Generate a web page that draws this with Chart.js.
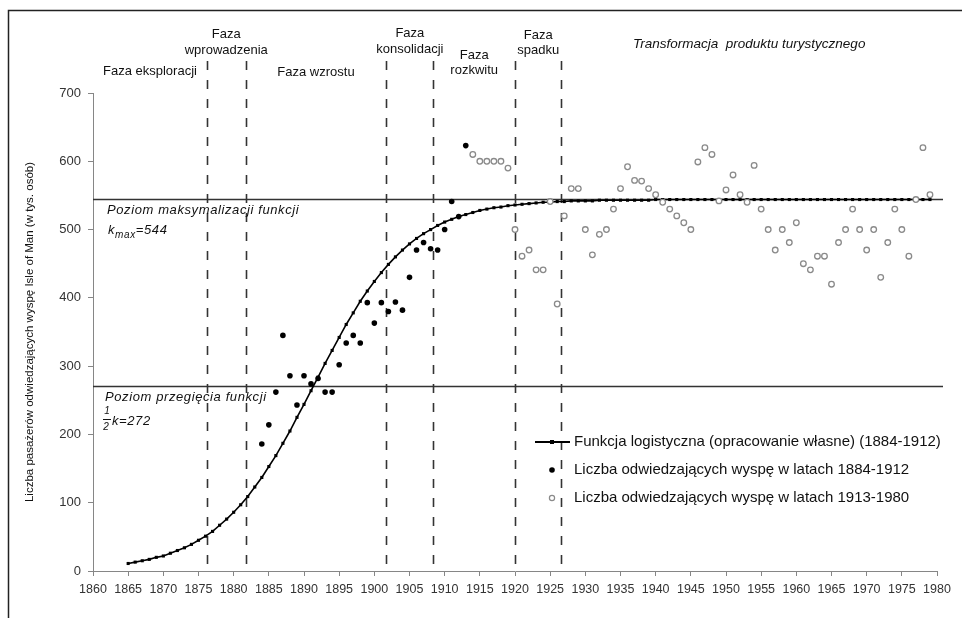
<!DOCTYPE html>
<html lang="pl">
<head>
<meta charset="UTF-8">
<title>Isle of Man - fazy rozwoju</title>
<script src="https://cdn.jsdelivr.net/npm/chart.js"></script>
<style>
  html, body { margin: 0; padding: 0; background: #fff; }
  #wrap { width: 962px; height: 618px; }
</style>
</head>
<body>
<div id="wrap"><canvas id="chart" width="962" height="618"></canvas></div>
<script>
// logistic curve, one point per year
const curveYears = [1865,1866,1867,1868,1869,1870,1871,1872,1873,1874,1875,1876,1877,1878,1879,
  1880,1881,1882,1883,1884,1885,1886,1887,1888,1889,1890,1891,1892,1893,1894,1895,1896,1897,1898,1899,
  1900,1901,1902,1903,1904,1905,1906,1907,1908,1909,1910,1911,1912,1913,1914,1915,1916,1917,1918,1919,
  1920,1921,1922,1923,1924,1925,1926,1927,1928,1929,1930,1931,1932,1933,1934,1935,1936,1937,1938,1939,
  1940,1941,1942,1943,1944,1945,1946,1947,1948,1949,1950,1951,1952,1953,1954,1955,1956,1957,1958,1959,
  1960,1961,1962,1963,1964,1965,1966,1967,1968,1969,1970,1971,1972,1973,1974,1975,1976,1977,1978,1979];
const curveValues = [11,13,15,17,20,22,26,30,34,39,45,51,58,67,76,
  86,97,109,123,137,153,169,187,205,225,244,264,284,304,323,342,361,378,395,410,
  424,437,449,460,470,479,487,494,500,506,511,515,519,522,525,528,530,532,533,535,
  536,537,538,539,540,540,541,541,542,542,542,542,543,543,543,543,543,543,543,543,
  544,544,544,544,544,544,544,544,544,544,544,544,544,544,544,544,544,544,544,544,
  544,544,544,544,544,544,544,544,544,544,544,544,544,544,544,544,544,544,544,544];

// visitors 1884-1912 (black dots)
const earlyYears = [1884,1885,1886,1887,1888,1889,1890,1891,1892,1893,1894,1895,1896,1897,1898,
  1899,1900,1901,1902,1903,1904,1905,1906,1907,1908,1909,1910,1911,1912,1913];
const earlyValues = [186,214,262,345,286,243,286,274,282,262,262,302,334,345,334,
  393,363,393,380,394,382,430,470,481,472,470,500,541,519,623];

// visitors 1913-1980 (grey circles)
const lateYears = [1914,1915,1916,1917,1918,1919,1920,1921,1922,1923,1924,1925,1926,1927,1928,1929,
  1930,1931,1932,1933,1934,1935,1936,1937,1938,1939,1940,1941,1942,1943,1944,1945,1946,1947,1948,1949,
  1950,1951,1952,1953,1954,1955,1956,1957,1958,1959,1960,1961,1962,1963,1964,1965,1966,1967,1968,1969,
  1970,1971,1972,1973,1974,1975,1976,1977,1978,1979];
const lateValues = [610,600,600,600,600,590,500,461,470,441,441,541,391,520,560,560,
  500,463,493,500,530,560,592,572,571,560,551,540,530,520,510,500,599,620,610,542,
  558,580,551,540,594,530,500,470,500,481,510,450,441,461,461,420,481,500,530,500,
  470,500,430,481,530,500,461,544,620,551];

const seriesNames = [
  'Funkcja logistyczna (opracowanie własne) (1884-1912)',
  'Liczba odwiedzających wyspę w latach 1884-1912',
  'Liczba odwiedzających wyspę w latach 1913-1980'
];

// phase boundaries (years) and their names
const phaseBounds = [1876.2, 1881.7, 1901.7, 1908.4, 1920.0, 1926.6];
const phaseNames = [
  ['Faza eksploracji'],
  ['Faza', 'wprowadzenia'],
  ['Faza wzrostu'],
  ['Faza', 'konsolidacji'],
  ['Faza', 'rozkwitu'],
  ['Faza', 'spadku'],
  ['Transformacja  produktu turystycznego']
];

const levelMax = 545;   // k max = 544
const levelHalf = 271;  // 1/2 k = 272

const xTicks = [1860, 1980, 5];
const yTicks = [0, 700, 100];

const FONT = "'Liberation Sans', Arial, sans-serif";

function toPoints(xs, ys) {
  return xs.map((x, i) => ({ x: x, y: ys[i] }));
}

const decor = {
  id: 'decor',
  beforeDraw(chart) {
    const ctx = chart.ctx;
    ctx.save();
    ctx.fillStyle = '#fff';
    ctx.fillRect(0, 0, chart.width, chart.height);
    ctx.strokeStyle = '#222';
    ctx.lineWidth = 1.5;
    ctx.beginPath();
    ctx.moveTo(8.5, chart.height);
    ctx.lineTo(8.5, 10.5);
    ctx.lineTo(chart.width, 10.5);
    ctx.stroke();
    ctx.restore();
  },
  beforeDatasetsDraw(chart) {
    const { ctx, chartArea, scales: { x, y } } = chart;
    ctx.save();
    ctx.strokeStyle = '#333';
    ctx.lineWidth = 1.4;
    [levelMax, levelHalf].forEach(v => {
      const py = Math.round(y.getPixelForValue(v)) + 0.5;
      ctx.beginPath();
      ctx.moveTo(chartArea.left, py);
      ctx.lineTo(chartArea.right + 6, py);
      ctx.stroke();
    });
    ctx.setLineDash([9, 10]);
    ctx.lineWidth = 1.6;
    phaseBounds.forEach(b => {
      const px = Math.round(x.getPixelForValue(b)) + 0.5;
      ctx.beginPath();
      ctx.moveTo(px, 61);
      ctx.lineTo(px, chartArea.bottom);
      ctx.stroke();
    });
    ctx.restore();
  },
  afterDraw(chart) {
    const { ctx, chartArea, scales: { x } } = chart;
    ctx.save();
    ctx.fillStyle = '#111';
    ctx.textAlign = 'center';
    ctx.textBaseline = 'middle';

    // phase labels, centred between boundaries
    const edges = [chartArea.left].concat(phaseBounds.map(b => x.getPixelForValue(b)), [chartArea.right]);
    const rowsY = [[71], [34, 50], [72], [33, 49], [55, 70], [35, 50], [44]];
    phaseNames.forEach((lines, i) => {
      const cx = (edges[i] + edges[i + 1]) / 2;
      const last = i === phaseNames.length - 1;
      ctx.font = (last ? 'italic 13.5px ' : '13px ') + FONT;
      lines.forEach((t, j) => ctx.fillText(t, cx, rowsY[i][j]));
    });

    // level annotations
    ctx.textAlign = 'left';
    ctx.font = 'italic 13px ' + FONT;
    ctx.letterSpacing = '0.6px';
    ctx.fillText('Poziom maksymalizacji funkcji', 107, 210);
    ctx.fillText('Poziom przegięcia funkcji', 105, 397);

    let px = 108;
    ctx.fillText('k', px, 230);
    px += ctx.measureText('k').width;
    ctx.font = 'italic 10px ' + FONT;
    ctx.fillText('max', px, 235);
    px += ctx.measureText('max').width;
    ctx.font = 'italic 13px ' + FONT;
    ctx.fillText('=544', px, 230);

    ctx.letterSpacing = '0px';
    ctx.font = 'italic 10px ' + FONT;
    ctx.textAlign = 'center';
    ctx.fillText('1', 107, 411);
    ctx.fillText('2', 106, 427);
    ctx.strokeStyle = '#111';
    ctx.lineWidth = 1;
    ctx.beginPath();
    ctx.moveTo(103, 419.5);
    ctx.lineTo(111, 419.5);
    ctx.stroke();
    ctx.textAlign = 'left';
    ctx.font = 'italic 13px ' + FONT;
    ctx.letterSpacing = '0.6px';
    ctx.fillText('k=272', 112, 421);
    ctx.letterSpacing = '0px';

    // legend
    const rows = [442, 470, 498];
    const mx = 552;
    ctx.font = '15px ' + FONT;
    ctx.fillStyle = '#111';
    seriesNames.forEach((t, i) => ctx.fillText(t, 574, rows[i]));
    ctx.strokeStyle = '#000';
    ctx.lineWidth = 1.8;
    ctx.beginPath();
    ctx.moveTo(535, rows[0]);
    ctx.lineTo(570, rows[0]);
    ctx.stroke();
    ctx.fillStyle = '#000';
    ctx.fillRect(mx - 2, rows[0] - 2, 4, 4);
    ctx.beginPath();
    ctx.arc(mx, rows[1], 2.8, 0, Math.PI * 2);
    ctx.fill();
    ctx.beginPath();
    ctx.arc(mx, rows[2], 2.6, 0, Math.PI * 2);
    ctx.fillStyle = '#fff';
    ctx.fill();
    ctx.strokeStyle = '#8a8a8a';
    ctx.lineWidth = 1.2;
    ctx.stroke();
    ctx.restore();
  }
};

new Chart(document.getElementById('chart'), {
  type: 'scatter',
  data: {
    datasets: [
      {
        label: seriesNames[0],
        type: 'line',
        showLine: true,
        data: toPoints(curveYears, curveValues),
        borderColor: '#000',
        borderWidth: 1.6,
        pointStyle: 'rect',
        pointRadius: 2.2,
        pointBackgroundColor: '#000',
        pointBorderColor: '#000',
        pointBorderWidth: 0,
        order: 3
      },
      {
        label: seriesNames[1],
        data: toPoints(earlyYears, earlyValues),
        pointStyle: 'circle',
        pointRadius: 2.8,
        backgroundColor: '#000',
        borderWidth: 0,
        order: 1
      },
      {
        label: seriesNames[2],
        data: toPoints(lateYears, lateValues),
        pointStyle: 'circle',
        pointRadius: 2.8,
        backgroundColor: '#fff',
        borderColor: '#8a8a8a',
        borderWidth: 1.3,
        order: 2
      }
    ]
  },
  options: {
    responsive: false,
    animation: false,
    devicePixelRatio: 1,
    layout: { padding: { top: 93, right: 25, left: 0, bottom: 0 } },
    plugins: {
      legend: { display: false },
      tooltip: { enabled: false }
    },
    scales: {
      x: {
        type: 'linear',
        min: xTicks[0],
        max: xTicks[1],
        afterFit: s => { s.height = 47; },
        border: { color: '#868686', width: 1 },
        grid: { drawOnChartArea: false, drawTicks: true, tickLength: 5, color: '#868686' },
        ticks: {
          stepSize: xTicks[2],
          autoSkip: false,
          maxRotation: 0,
          padding: 6,
          color: '#333',
          font: { family: FONT, size: 12.5 },
          callback: v => String(v)
        }
      },
      y: {
        min: yTicks[0],
        max: yTicks[1],
        afterFit: s => { s.width = 93; },
        border: { color: '#868686', width: 1 },
        grid: { drawOnChartArea: false, drawTicks: true, tickLength: 5, color: '#868686' },
        ticks: {
          stepSize: yTicks[2],
          padding: 7,
          color: '#333',
          font: { family: FONT, size: 13 }
        },
        title: {
          display: true,
          text: 'Liczba pasażerów odwiedzających wyspę Isle of Man (w tys. osób)',
          color: '#111',
          font: { family: FONT, size: 11.5 },
          padding: { top: 23, bottom: 0 }
        }
      }
    }
  },
  plugins: [decor]
});
</script>
</body>
</html>
